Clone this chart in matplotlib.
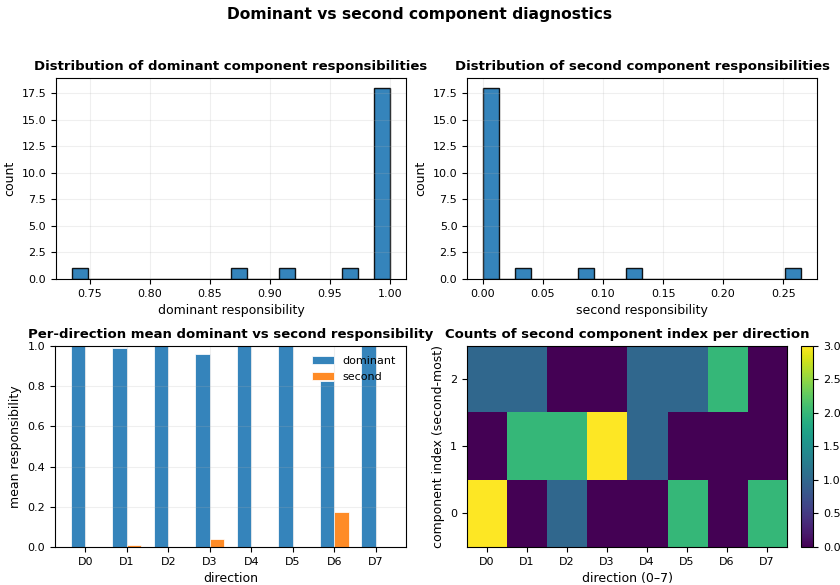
import matplotlib
matplotlib.use("Agg")
import matplotlib.pyplot as plt
import numpy as np

# per-sample responsibilities (22 samples)
dominant_resp = [0.735, 0.875, 0.915, 0.965,
                 0.999, 1.0, 0.998, 1.0, 0.999, 1.0, 0.997, 1.0, 0.999,
                 1.0, 0.998, 1.0, 0.999, 1.0, 1.0, 0.999, 1.0, 0.998]
second_resp = [0.265, 0.125, 0.085, 0.035,
               0.001, 0.0, 0.002, 0.0, 0.001, 0.0, 0.003, 0.0, 0.001,
               0.0, 0.002, 0.0, 0.001, 0.0, 0.0, 0.001, 0.0, 0.002]

directions = ["D0", "D1", "D2", "D3", "D4", "D5", "D6", "D7"]
mean_dominant = [1.0, 0.988, 1.0, 0.958, 1.0, 1.0, 0.825, 1.0]
mean_second = [0.0, 0.012, 0.0, 0.042, 0.0, 0.0, 0.175, 0.0]

# counts of second component index (rows 0..2) per direction
second_counts = [
    [3, 0, 1, 0, 0, 2, 0, 2],
    [0, 2, 2, 3, 1, 0, 0, 0],
    [1, 1, 0, 0, 1, 1, 2, 0],
]

fig = plt.figure(figsize=(8.4, 5.85), dpi=100)
fig.suptitle("Dominant vs second component diagnostics", fontsize=11.2,
             fontweight="bold", y=0.976, va="center")

# axes placed by hand: [left, bottom, width, height]
ax_tl = fig.add_axes([0.0667, 0.523, 0.4167, 0.3436])
ax_tr = fig.add_axes([0.556, 0.523, 0.4167, 0.3436])
ax_bl = fig.add_axes([0.0655, 0.065, 0.418, 0.3436])
ax_br = fig.add_axes([0.556, 0.065, 0.381, 0.3436])
cax = fig.add_axes([0.9536, 0.065, 0.0143, 0.3436])

# 1. dominant histogram
ax = ax_tl
ax.hist(dominant_resp, bins=20, color="tab:blue", alpha=0.9, edgecolor="black")
ax.set_title("Distribution of dominant component responsibilities", fontsize=9.5, fontweight="bold")
ax.set_xlabel("dominant responsibility", fontsize=9)
ax.set_ylabel("count", fontsize=9)
ax.tick_params(labelsize=8)
ax.grid(alpha=0.2)

# 2. second histogram
ax = ax_tr
ax.hist(second_resp, bins=20, color="tab:blue", alpha=0.9, edgecolor="black")
ax.set_title("Distribution of second component responsibilities", fontsize=9.5, fontweight="bold")
ax.set_xlabel("second responsibility", fontsize=9)
ax.set_ylabel("count", fontsize=9)
ax.tick_params(labelsize=8)
ax.grid(alpha=0.2)

# 3. per-direction means
ax = ax_bl
x = np.arange(len(directions))
w = 0.35
ax.bar(x - w/2, mean_dominant, width=w, color="tab:blue", alpha=0.9,
       edgecolor="white", linewidth=0.6, label="dominant")
ax.bar(x + w/2, mean_second, width=w, color="tab:orange", alpha=0.9,
       edgecolor="white", linewidth=0.6, label="second")
ax.set_xticks(x)
ax.set_xticklabels(directions)
ax.set_ylim(0, 1.0)
ax.set_title("Per-direction mean dominant vs second responsibility", fontsize=9.5, fontweight="bold")
ax.set_xlabel("direction", fontsize=9)
ax.set_ylabel("mean responsibility", fontsize=9)
ax.tick_params(labelsize=8)
ax.legend(frameon=False, fontsize=8, loc="upper right")
ax.grid(alpha=0.2)

# 4. heatmap of second component index
ax = ax_br
im = ax.imshow(np.array(second_counts), origin="lower", aspect="auto", cmap="viridis")
ax.set_xticks(range(len(directions)))
ax.set_xticklabels(directions)
ax.set_yticks(range(len(second_counts)))
ax.set_title("Counts of second component index per direction", fontsize=9.5, fontweight="bold")
ax.set_xlabel("direction (0–7)", fontsize=9)
ax.set_ylabel("component index (second-most)", fontsize=9)
ax.tick_params(labelsize=8)
cb = fig.colorbar(im, cax=cax)
cb.ax.tick_params(labelsize=8)

fig.savefig("out.png")
